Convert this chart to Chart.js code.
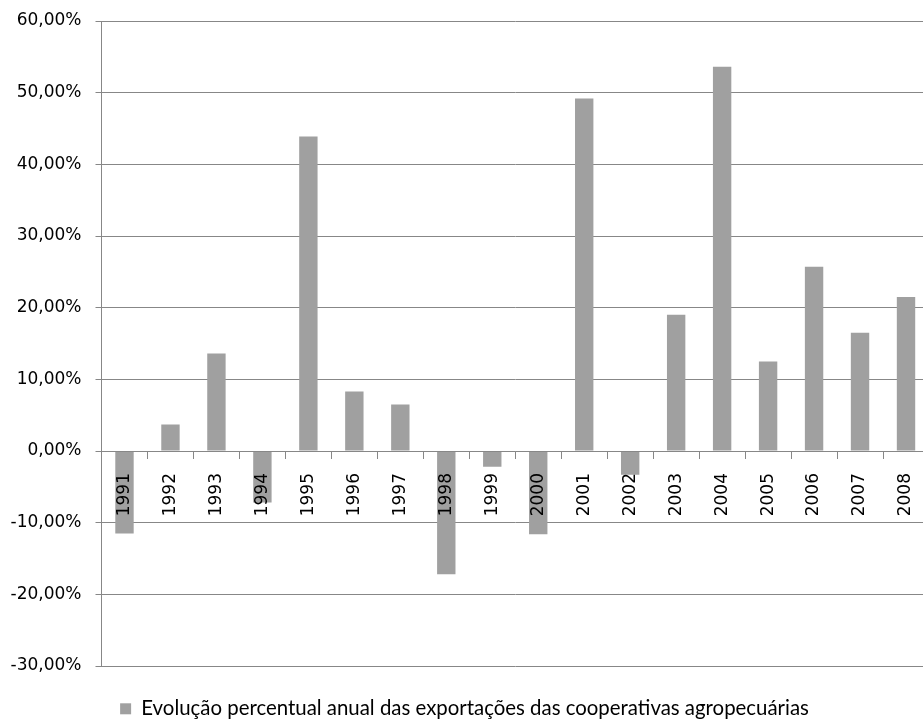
<!DOCTYPE html>
<html>
<head>
<meta charset="utf-8">
<script src="https://cdn.jsdelivr.net/npm/chart.js@4.4.1/dist/chart.umd.min.js"></script>
<style>
  html, body { margin: 0; padding: 0; background: #ffffff; overflow: hidden; }
  #wrap { position: relative; width: 929px; height: 729px; }
</style>
</head>
<body>
<div id="wrap"><canvas id="c"></canvas></div>
<script>
const categories = ['1991','1992','1993','1994','1995','1996','1997','1998','1999','2000','2001','2002','2003','2004','2005','2006','2007','2008'];
const seriesName = 'Evolução percentual anual das exportações das cooperativas agropecuárias';
const seriesValues = [-11.5, 3.7, 13.6, -7.2, 43.9, 8.3, 6.5, -17.2, -2.2, -11.6, 49.2, -3.3, 19.0, 53.6, 12.5, 25.7, 16.5, 21.5];
const yTickValues = [-30, -20, -10, 0, 10, 20, 30, 40, 50, 60];
const yTickLabels = ['-30,00%', '-20,00%', '-10,00%', '0,00%', '10,00%', '20,00%', '30,00%', '40,00%', '50,00%', '60,00%'];

const gridColor = '#878787';
const barColor = '#a0a0a0';

new Chart(document.getElementById('c'), {
  type: 'bar',
  data: {
    labels: categories,
    datasets: [{
      label: seriesName,
      data: seriesValues,
      backgroundColor: barColor,
      borderWidth: 0,
      barPercentage: 0.4,
      categoryPercentage: 1.0
    }]
  },
  options: {
    responsive: true,
    maintainAspectRatio: false,
    animation: false,
    layout: { padding: { top: 21, left: 0, right: 0, bottom: 0 } },
    plugins: {
      tooltip: { enabled: false },
      legend: {
        position: 'bottom',
        labels: {
          boxWidth: 11,
          boxHeight: 11,
          padding: 32.6,
          color: '#000000',
          font: { family: 'Lato', size: 20.4 }
        }
      }
    },
    scales: {
      x: {
        type: 'category',
        position: { y: 0 },
        afterFit: (s) => { s.paddingLeft = 0; s.paddingRight = 0; s.paddingTop = 0; s.paddingBottom = 0; },
        grid: { display: true, drawOnChartArea: false, drawTicks: true, tickLength: 7, offset: true, color: gridColor, lineWidth: 1, z: 1 },
        border: { display: true, color: gridColor, width: 1, z: 1 },
        ticks: { autoSkip: false, maxRotation: 90, minRotation: 90, padding: 15, color: '#000000', font: { family: 'DejaVu Sans', size: 17 }, z: 2 }
      },
      y: {
        min: -30,
        max: 60,
        afterFit: (s) => { s.width = 101.5; s.paddingTop = 0; s.paddingBottom = 0; },
        afterBuildTicks: (s) => { s.ticks = yTickValues.map(v => ({ value: v })); },
        grid: { color: gridColor, lineWidth: 1, drawTicks: true, tickLength: 6 },
        border: { display: true, color: gridColor, width: 1 },
        ticks: { padding: 14, color: '#000000', font: { family: 'DejaVu Sans', size: 17 }, callback: (v) => yTickLabels[yTickValues.indexOf(v)] }
      }
    }
  }
});
</script>
</body>
</html>
